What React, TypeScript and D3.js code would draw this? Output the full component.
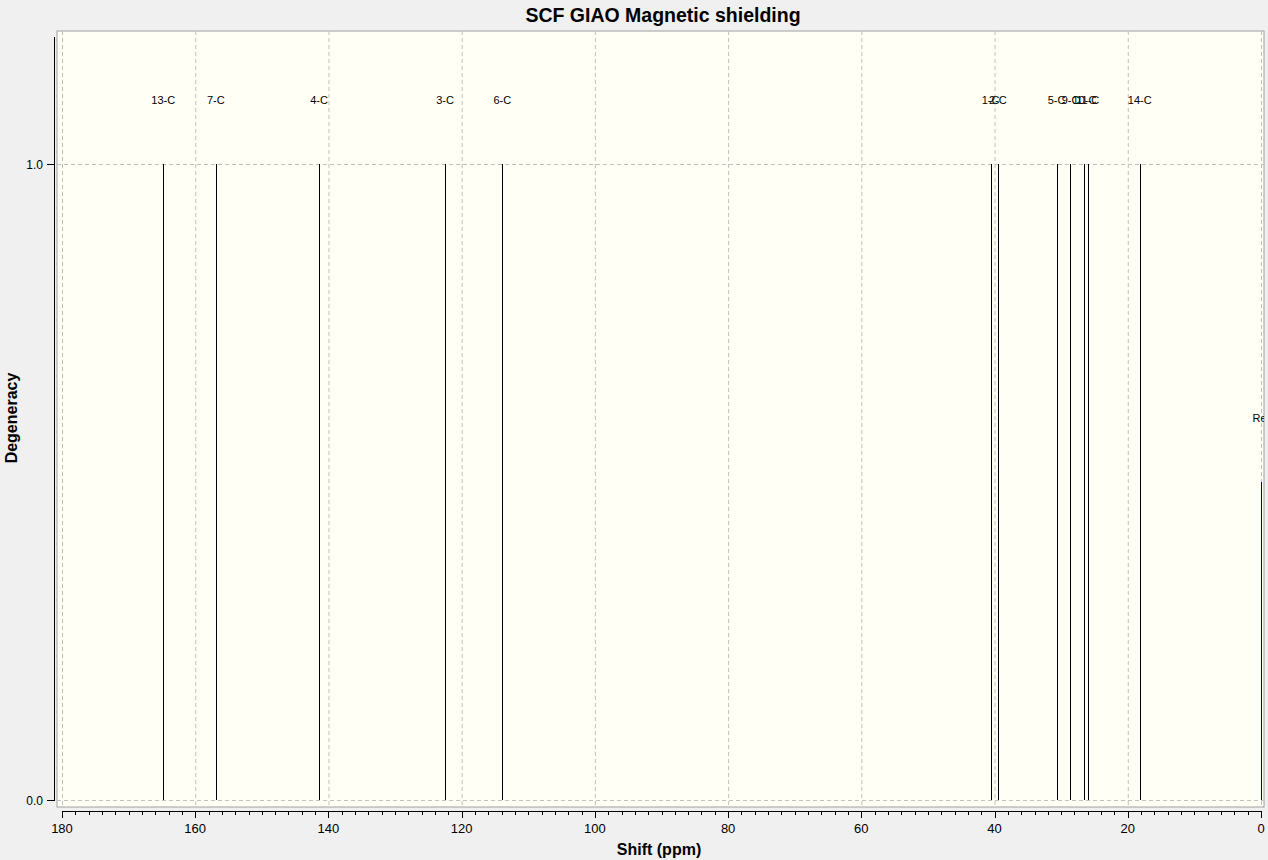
import * as d3 from 'd3';

// carbon labels, shifts (ppm) and degeneracy
const peakLabels = ['13-C', '7-C', '4-C', '3-C', '6-C', '1-C', '2-C', '5-C', '9-C', '10-C', '11-C', '14-C', 'Ref'];
const peakShifts = [164.8, 156.9, 141.4, 122.5, 113.9, 40.6, 39.5, 30.7, 28.6, 26.5, 26.0, 18.2, 0];
const peakHeights = [1, 1, 1, 1, 1, 1, 1, 1, 1, 1, 1, 1, 0.5];

const xMajorTicks = [180, 160, 140, 120, 100, 80, 60, 40, 20, 0];
const yTicks = [0, 1];

const W = 1268;
const H = 860;
const frame = { left: 57, top: 31, right: 1264, bottom: 807 };
const font = '"Liberation Sans", Arial, sans-serif';

export default function App() {
  const x = d3.scaleLinear().domain([180, 0]).range([62, 1261]);
  const y = d3.scaleLinear().domain([0, 1.2]).range([800, 36.8]);
  const axisY = 811;
  const minorTicks = d3.range(0, 181, 2).filter(t => t % 20 !== 0);

  return (
    <svg width={W} height={H} style={{ position: 'absolute', left: 0, top: 0, background: '#f0f0f0' }}>
      <defs>
        <clipPath id="plotClip">
          <rect x={frame.left} y={frame.top} width={frame.right - frame.left} height={frame.bottom - frame.top} />
        </clipPath>
      </defs>
      <rect x={0} y={0} width={W} height={H} fill="#f0f0f0" />
      <text x={663} y={21.5} textAnchor="middle" fontFamily={font} fontWeight="bold" fontSize={19.5} fill="#000">
        SCF GIAO Magnetic shielding
      </text>

      {/* plot area */}
      <rect x={frame.left} y={frame.top} width={frame.right - frame.left} height={frame.bottom - frame.top}
        fill="#fffff5" stroke="#a0a0a0" strokeWidth={1} />

      <g clipPath="url(#plotClip)">
        {xMajorTicks.map(t => (
          <line key={'gx' + t} x1={x(t) + 0.5} x2={x(t) + 0.5} y1={frame.top} y2={frame.bottom}
            stroke="#c0c0c0" strokeDasharray="4,3" />
        ))}
        {yTicks.map(t => (
          <line key={'gy' + t} x1={frame.left} x2={frame.right} y1={Math.round(y(t)) + 0.5} y2={Math.round(y(t)) + 0.5}
            stroke="#c0c0c0" strokeDasharray="4,3" />
        ))}
        {peakShifts.map((s, i) => (
          <g key={peakLabels[i]}>
            <line x1={Math.round(x(s)) + 0.5} x2={Math.round(x(s)) + 0.5} y1={y(0)} y2={y(peakHeights[i])}
              stroke={peakLabels[i] === 'Ref' ? '#000080' : '#000'} strokeWidth={1} />
            <text x={x(s)} y={y(peakHeights[i] + 0.1) + 4} textAnchor="middle" fontFamily={font} fontSize={11} fill="#000">
              {peakLabels[i]}
            </text>
          </g>
        ))}
      </g>

      {/* x axis */}
      <line x1={x(180)} x2={x(0) + 1} y1={axisY + 0.5} y2={axisY + 0.5} stroke="#000" />
      {minorTicks.map(t => (
        <line key={'mx' + t} x1={Math.round(x(t)) + 0.5} x2={Math.round(x(t)) + 0.5} y1={axisY} y2={axisY + 4} stroke="#000" />
      ))}
      {xMajorTicks.map(t => (
        <g key={'tx' + t}>
          <line x1={Math.round(x(t)) + 0.5} x2={Math.round(x(t)) + 0.5} y1={axisY} y2={axisY + 7} stroke="#000" />
          <text x={x(t)} y={833} textAnchor="middle" fontFamily={font} fontSize={13} fill="#000">{t}</text>
        </g>
      ))}
      <text x={659} y={855} textAnchor="middle" fontFamily={font} fontWeight="bold" fontSize={16} fill="#000">
        Shift (ppm)
      </text>

      {/* y axis */}
      <line x1={54.5} x2={54.5} y1={37} y2={y(0) + 1} stroke="#000" />
      {yTicks.map(t => (
        <g key={'ty' + t}>
          <line x1={47} x2={54} y1={Math.round(y(t)) + 0.5} y2={Math.round(y(t)) + 0.5} stroke="#000" />
          <text x={43} y={y(t) + 4.5} textAnchor="end" fontFamily={font} fontSize={12} fill="#000">{t.toFixed(1)}</text>
        </g>
      ))}
      <text transform={`translate(17,418) rotate(-90)`} textAnchor="middle" fontFamily={font} fontWeight="bold" fontSize={16} fill="#000">
        Degeneracy
      </text>
    </svg>
  );
}
